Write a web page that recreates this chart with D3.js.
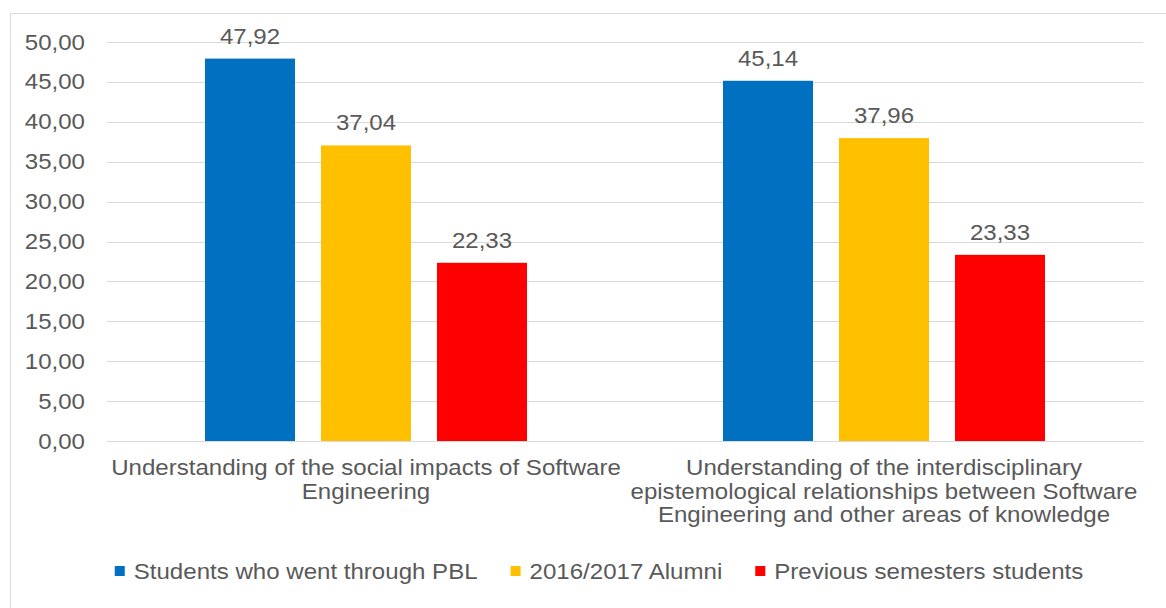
<!DOCTYPE html>
<html>
<head>
<meta charset="utf-8">
<script src="https://cdn.jsdelivr.net/npm/d3@7"></script>
<style>
  html, body { margin: 0; padding: 0; background: #fff; }
  svg { display: block; }
  text { font-family: "Liberation Sans", Arial, sans-serif; fill: #595959; }
</style>
</head>
<body>
<svg id="chart" width="1166" height="608"></svg>
<script>
const categories = [
  ["Understanding of the social impacts of Software", "Engineering"],
  ["Understanding of the interdisciplinary", "epistemological relationships between Software", "Engineering and other areas of knowledge"]
];
const categoryKeys = ["social", "interdisciplinary"];
const seriesNames = ["Students who went through PBL", "2016/2017 Alumni", "Previous semesters students"];
const seriesColors = ["#0070C0", "#FFC000", "#FF0000"];
const pblValues = [47.92, 45.14];
const alumniValues = [37.04, 37.96];
const previousValues = [22.33, 23.33];
const yTicks = [0, 5, 10, 15, 20, 25, 30, 35, 40, 45, 50];

const seriesValues = [pblValues, alumniValues, previousValues];
const fmt = v => d3.format(".2f")(v).replace(".", ",");

const svg = d3.select("#chart");
const FS = 21.5, SX = 1.12;

// outer chart border (runs off right/bottom like the reference)
svg.append("rect").attr("x", 10.5).attr("y", 13.5).attr("width", 1170).attr("height", 620)
  .attr("fill", "none").attr("stroke", "#D9D9D9").attr("stroke-width", 1);

const plot = { left: 107, right: 1143, top: 42, bottom: 441 };
const y = d3.scaleLinear().domain([0, 50]).range([plot.bottom, plot.top]);
const x0 = d3.scaleBand().domain(categoryKeys).range([plot.left, plot.right]).padding(0);
const groupW = 322;
const x1 = d3.scaleBand().domain(d3.range(seriesNames.length)).range([0, groupW]).paddingInner(0.224).paddingOuter(0);

function stretchedText(parent, x, yy, str, anchor) {
  const g = parent.append("g").attr("transform", `translate(${x},${yy}) scale(${SX},1)`);
  return g.append("text").attr("text-anchor", anchor).style("font-size", FS + "px").text(str);
}

// gridlines
svg.append("g").selectAll("line").data(yTicks).join("line")
  .attr("x1", plot.left).attr("x2", plot.right)
  .attr("y1", d => Math.round(y(d)) + 0.5).attr("y2", d => Math.round(y(d)) + 0.5)
  .attr("stroke", "#D9D9D9").attr("stroke-width", 1);

// y tick labels
const yl = svg.append("g");
yTicks.forEach(t => stretchedText(yl, 85, y(t) + 7.5, fmt(t), "end"));

// bars
const groups = svg.append("g").selectAll("g").data(categoryKeys).join("g")
  .attr("transform", k => `translate(${x0(k) + (x0.bandwidth() - groupW) / 2},0)`);

groups.each(function(k, ci) {
  const g = d3.select(this);
  seriesValues.forEach((vals, si) => {
    const v = vals[ci];
    g.append("rect")
      .attr("x", x1(si)).attr("width", x1.bandwidth())
      .attr("y", y(v)).attr("height", y(0) - y(v))
      .attr("fill", seriesColors[si]);
    stretchedText(g, x1(si) + x1.bandwidth() / 2, y(v) - 15, fmt(v), "middle");
  });
});

// category labels
const xl = svg.append("g");
categories.forEach((lines, ci) => {
  const cx = x0(categoryKeys[ci]) + x0.bandwidth() / 2;
  lines.forEach((ln, li) => stretchedText(xl, cx, 475 + li * 23.5, ln, "middle"));
});

// legend
const lg = svg.append("g");
const legendY = 579;
const items = [];
let total = 0;
seriesNames.forEach((name, i) => {
  const g = lg.append("g");
  g.append("rect").attr("x", 0).attr("y", legendY - 13).attr("width", 10).attr("height", 10).attr("fill", seriesColors[i]);
  const t = stretchedText(g, 19, legendY, name, "start");
  const w = 19 + t.node().getComputedTextLength() * SX;
  items.push({ g, w });
  total += w;
});
const gap = 33;
total += gap * (items.length - 1);
let lx = 599 - total / 2;
items.forEach(it => { it.g.attr("transform", `translate(${lx},0)`); lx += it.w + gap; });
</script>
</body>
</html>
